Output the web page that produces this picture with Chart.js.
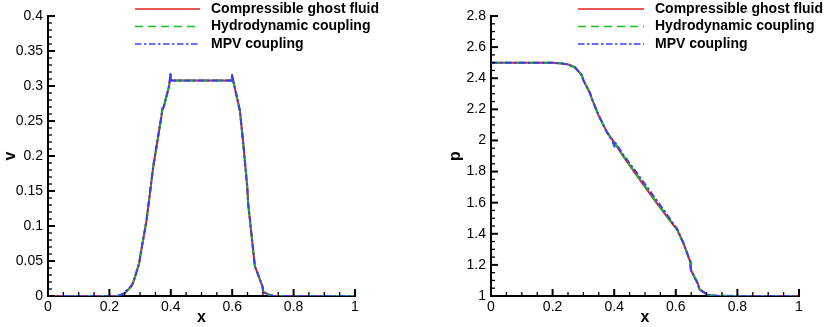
<!DOCTYPE html>
<html><head><meta charset="utf-8">
<script src="https://cdn.jsdelivr.net/npm/chart.js@4/dist/chart.umd.min.js"></script>
<style>
html,body{margin:0;padding:0;background:#fff;}
#wrap{position:relative;width:836px;height:327px;overflow:hidden;background:#fff;}
canvas{position:absolute;top:0;}
</style></head><body>
<div id="wrap">
<canvas id="c1" width="418" height="327" style="left:0px"></canvas>
<canvas id="c2" width="418" height="327" style="left:418px"></canvas>
</div>
<script>
// ---------- data ----------
const seriesNames = ['Compressible ghost fluid', 'Hydrodynamic coupling', 'MPV coupling'];

// x ticks (both panels)
const xTickValues = [0, 0.2, 0.4, 0.6, 0.8, 1];
const xTickLabels = ['0', '0.2', '0.4', '0.6', '0.8', '1'];

// left panel: v
const vTickValues = [0, 0.05, 0.1, 0.15, 0.2, 0.25, 0.3, 0.35, 0.4];
const vTickLabels = ['0', '0.05', '0.1', '0.15', '0.2', '0.25', '0.3', '0.35', '0.4'];
const vX     = [0, 0.10, 0.20, 0.225, 0.234, 0.250, 0.272, 0.278, 0.297, 0.300, 0.321, 0.343, 0.370, 0.373, 0.377, 0.394, 0.399, 0.401, 0.50, 0.598, 0.600, 0.603, 0.625, 0.636, 0.649, 0.652, 0.674, 0.679, 0.699, 0.701, 0.722, 0.735, 0.80, 1.0];
const vGhost = [0, 0,    0,    0,     0.001, 0.004, 0.014, 0.020, 0.047, 0.056, 0.108, 0.185, 0.258, 0.268, 0.270, 0.299, 0.316, 0.308, 0.308, 0.308, 0.315, 0.308, 0.265, 0.218, 0.156, 0.132, 0.042, 0.037, 0.013, 0.006, 0.0014, 0, 0, 0];
const vHydro = [0, 0,    0,    0,     0.001, 0.004, 0.014, 0.020, 0.047, 0.056, 0.108, 0.185, 0.258, 0.268, 0.270, 0.299, 0.316, 0.308, 0.308, 0.308, 0.315, 0.308, 0.265, 0.218, 0.156, 0.132, 0.042, 0.037, 0.013, 0.006, 0.0014, 0, 0, 0];
const vMpv   = [0, 0,    0,    0,     0.001, 0.005, 0.015, 0.020, 0.046, 0.056, 0.108, 0.186, 0.259, 0.268, 0.270, 0.300, 0.317, 0.308, 0.308, 0.308, 0.316, 0.308, 0.265, 0.218, 0.156, 0.132, 0.042, 0.037, 0.013, 0.006, 0.0015, 0, 0, 0];

// right panel: p
const pTickValues = [1, 1.2, 1.4, 1.6, 1.8, 2, 2.2, 2.4, 2.6, 2.8];
const pTickLabels = ['1', '1.2', '1.4', '1.6', '1.8', '2', '2.2', '2.4', '2.6', '2.8'];
const pX     = [0, 0.10, 0.20, 0.230, 0.251, 0.273, 0.295, 0.300, 0.322, 0.327, 0.349, 0.376, 0.395, 0.401, 0.404, 0.430, 0.484, 0.539, 0.592, 0.604, 0.625, 0.647, 0.649, 0.671, 0.677, 0.696, 0.701, 0.733, 0.80, 1.0];
const pGhost = [2.5, 2.5, 2.5, 2.495, 2.488, 2.469, 2.419, 2.387, 2.302, 2.270, 2.163, 2.055, 2.002, 1.985, 1.975, 1.895, 1.745, 1.595, 1.456, 1.428, 1.338, 1.220, 1.167, 1.082, 1.043, 1.017, 1.006, 1.002, 1, 1];
const pHydro = [2.5, 2.5, 2.5, 2.495, 2.488, 2.469, 2.419, 2.387, 2.302, 2.270, 2.163, 2.055, 1.995, 1.985, 1.977, 1.898, 1.750, 1.600, 1.460, 1.430, 1.338, 1.220, 1.167, 1.082, 1.043, 1.017, 1.006, 1.002, 1, 1];
const pMpv   = [2.5, 2.5, 2.5, 2.495, 2.488, 2.469, 2.419, 2.387, 2.302, 2.270, 2.163, 2.055, 1.991, 1.960, 1.985, 1.908, 1.762, 1.612, 1.466, 1.432, 1.338, 1.220, 1.167, 1.082, 1.043, 1.017, 1.006, 1.002, 1, 1];

// ---------- styles ----------
const FONT = '"Liberation Sans", Arial, Helvetica, sans-serif';
const styles = [
  {borderColor: 'rgb(228,32,32)', borderDash: [], order: 2},
  {borderColor: 'rgb(24,190,24)', borderDash: [8, 5], order: 1},
  {borderColor: 'rgb(52,64,245)', borderDash: [6.5, 2.5, 2.5, 2.5], order: 0}
];

function mkData(xs, ys) { return xs.map((x, i) => ({x: x, y: ys[i]})); }
function mkDatasets(xs, list) {
  return list.map((ys, i) => ({
    label: seriesNames[i],
    data: mkData(xs, ys),
    borderColor: styles[i].borderColor,
    borderDash: styles[i].borderDash,
    order: styles[i].order,
    borderWidth: 2,
    borderJoinStyle: 'round',
    pointRadius: 0,
    tension: 0,
    fill: false
  }));
}

const inwardTicks = {
  id: 'inwardTicks',
  afterDraw(chart, args, o) {
    const {ctx, chartArea} = chart;
    const xs = chart.scales.x, ys = chart.scales.y;
    ctx.save();
    ctx.strokeStyle = '#000';
    const draw = (scale, horiz, nMinor) => {
      const vals = scale.ticks.map(t => t.value);
      const line = (v, len, w) => {
        const p = scale.getPixelForValue(v);
        ctx.lineWidth = w;
        ctx.beginPath();
        if (horiz) { ctx.moveTo(p, chartArea.bottom); ctx.lineTo(p, chartArea.bottom - len); }
        else { ctx.moveTo(chartArea.left, p); ctx.lineTo(chartArea.left + len, p); }
        ctx.stroke();
      };
      vals.forEach((v, i) => {
        line(v, o.major, 2);
        if (i < vals.length - 1) {
          for (let k = 1; k < nMinor; k++) line(v + (vals[i + 1] - v) * k / nMinor, o.minor, 1.3);
        }
      });
    };
    draw(xs, true, o.xMinor);
    draw(ys, false, o.yMinor);
    ctx.restore();
  }
};

const lineLegend = {
  id: 'lineLegend',
  afterDraw(chart, args, o) {
    const ctx = chart.ctx;
    chart.data.datasets.forEach((ds, i) => {
      const y = o.y0 + i * o.dy;
      ctx.save();
      ctx.strokeStyle = ds.borderColor;
      ctx.lineWidth = 1.5;
      ctx.setLineDash(ds.borderDash || []);
      ctx.beginPath(); ctx.moveTo(o.x1, y); ctx.lineTo(o.x2, y); ctx.stroke();
      ctx.setLineDash([]);
      ctx.fillStyle = '#000';
      ctx.font = 'bold 14px ' + FONT;
      ctx.textBaseline = 'middle';
      ctx.textAlign = 'left';
      ctx.fillText(ds.label, o.tx, y);
      ctx.restore();
    });
  }
};

function makeChart(id, cfg) {
  return new Chart(document.getElementById(id), {
    type: 'line',
    data: {datasets: cfg.datasets},
    plugins: [inwardTicks, lineLegend],
    options: {
      responsive: false,
      animation: false,
      devicePixelRatio: 1,
      layout: {padding: cfg.padding},
      plugins: {
        legend: {display: false},
        tooltip: {enabled: false},
        inwardTicks: {major: 7, minor: 4, xMinor: 4, yMinor: cfg.yMinor},
        lineLegend: cfg.legend
      },
      scales: {
        x: {
          type: 'linear', min: 0, max: 1, z: 1,
          afterFit: s => { s.height = cfg.xHeight; },
          afterBuildTicks: s => { s.ticks = xTickValues.map(v => ({value: v})); },
          grid: {display: false, drawTicks: false},
          border: {display: true, color: '#000', width: 2},
          ticks: {
            autoSkip: false, maxRotation: 0, padding: 3, color: '#000',
            font: {family: FONT, size: 14},
            callback: (v, i) => xTickLabels[i]
          },
          title: {display: true, text: 'x', color: '#000', padding: {top: 0, bottom: 0},
                  font: {family: FONT, size: 16, weight: 'bold'}}
        },
        y: {
          type: 'linear', min: cfg.yMin, max: cfg.yMax, z: 1,
          afterFit: s => { s.width = cfg.yWidth; },
          afterBuildTicks: s => { s.ticks = cfg.yTicks.map(v => ({value: v})); },
          grid: {display: false, drawTicks: false},
          border: {display: true, color: '#000', width: 2},
          ticks: {
            autoSkip: false, padding: 5, color: '#000',
            font: {family: FONT, size: 14},
            callback: (v, i) => cfg.yLabels[i]
          },
          title: {display: true, text: cfg.yTitle, color: '#000', padding: {top: 1, bottom: 0},
                  font: {family: FONT, size: 16, weight: 'bold'}}
        }
      }
    }
  });
}

makeChart('c1', {
  datasets: mkDatasets(vX, [vGhost, vHydro, vMpv]),
  padding: {left: 0, right: 63, top: 16, bottom: 0},
  xHeight: 31, yWidth: 48,
  yMin: 0, yMax: 0.4, yTicks: vTickValues, yLabels: vTickLabels, yTitle: 'v', yMinor: 5,
  legend: {x1: 135, x2: 200, tx: 211, y0: 9, dy: 17.5}
});

makeChart('c2', {
  datasets: mkDatasets(pX, [pGhost, pHydro, pMpv]),
  padding: {left: 27, right: 37, top: 16, bottom: 0},
  xHeight: 31, yWidth: 46,
  yMin: 1, yMax: 2.8, yTicks: pTickValues, yLabels: pTickLabels, yTitle: 'p', yMinor: 4,
  legend: {x1: 160, x2: 226, tx: 237, y0: 9, dy: 17.5}
});
</script>
</body></html>
